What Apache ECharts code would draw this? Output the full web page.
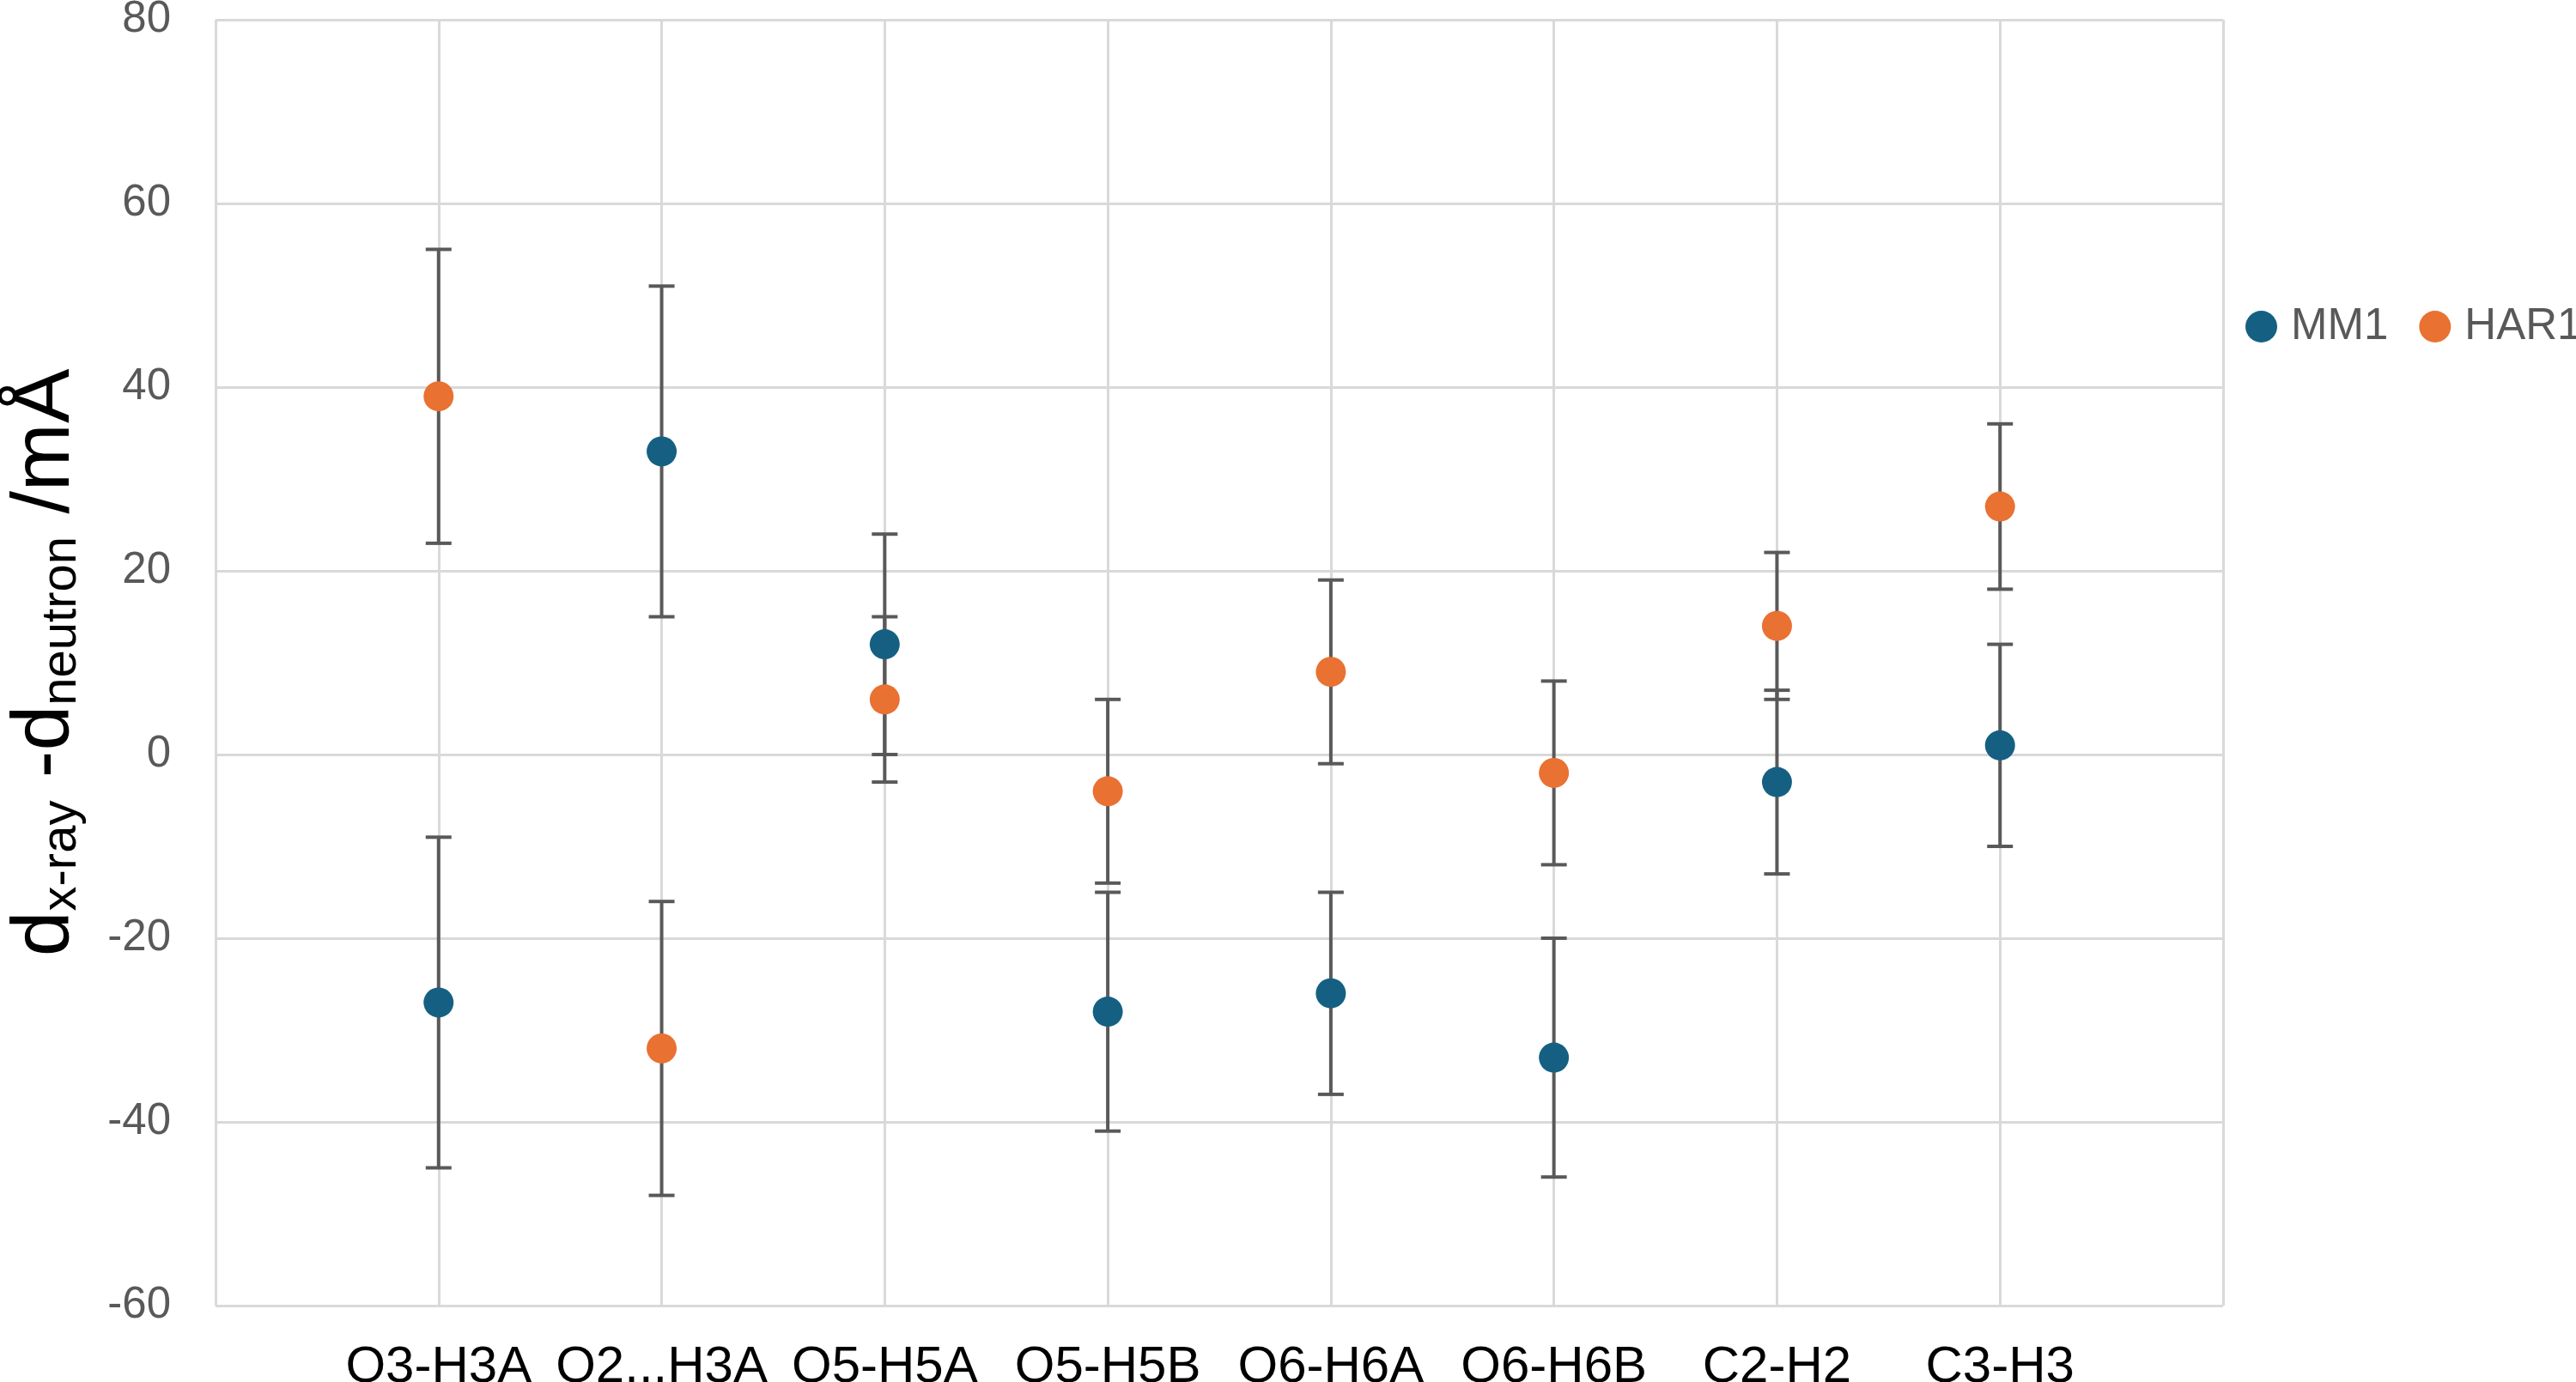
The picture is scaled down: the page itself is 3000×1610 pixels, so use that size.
<!DOCTYPE html>
<html>
<head>
<meta charset="utf-8">
<script src="https://cdn.jsdelivr.net/npm/echarts@6/dist/echarts.min.js"></script>
<style>
  html, body { margin: 0; padding: 0; background: #fff; }
  #chart { width: 3000px; height: 1610px; }
</style>
</head>
<body>
<div id="chart"></div>
<script>
// bond labels along the x axis (positions 1..8)
const bondLabels = ['O3-H3A', 'O2...H3A', 'O5-H5A', 'O5-H5B', 'O6-H6A', 'O6-H6B', 'C2-H2', 'C3-H3'];
// d(x-ray) - d(neutron), mÅ
const mm1Values = [-27, 33, 12, -28, -26, -33, -3, 1];
const mm1Errors = [18, 18, 12, 13, 11, 13, 10, 11];
const har1Values = [39, -32, 6, -4, 9, -2, 14, 27];
const har1Errors = [16, 16, 9, 10, 10, 10, 8, 9];
const yTicks = [-60, -40, -20, 0, 20, 40, 60, 80];

const blue = '#156082';
const orange = '#E97132';
const barColor = '#595959';
const gridColor = '#d9d9d9';
const font = 'Liberation Sans, Arial, sans-serif';

// 误差棒
function errorBar(params, api) {
    const x = api.value(0);
    const lo = api.coord([x, api.value(1)]);
    const hi = api.coord([x, api.value(2)]);
    const w = 15;
    const style = { stroke: barColor, lineWidth: 4 };
    return {
        type: 'group',
        children: [
            { type: 'line', shape: { x1: lo[0], y1: lo[1], x2: hi[0], y2: hi[1] }, style },
            { type: 'line', shape: { x1: lo[0] - w, y1: lo[1], x2: lo[0] + w, y2: lo[1] }, style },
            { type: 'line', shape: { x1: hi[0] - w, y1: hi[1], x2: hi[0] + w, y2: hi[1] }, style }
        ]
    };
}

function barData(values, errors) {
    return values.map((v, i) => [i + 1, v - errors[i], v + errors[i]]);
}

const chart = echarts.init(document.getElementById('chart'));
const option = {
    backgroundColor: '#fff',
    animation: false,
    grid: { left: 251, right: 411, top: 23, bottom: 89, outerBoundsMode: 'none', containLabel: false },
    legend: {
        data: ['MM1', 'HAR1'],
        orient: 'horizontal',
        left: 2615,
        width: 700,
        top: 355,
        padding: 0,
        icon: 'circle',
        itemWidth: 37,
        itemHeight: 37,
        itemGap: 36,
        textStyle: { fontFamily: font, fontSize: 51, color: '#595959', padding: [0, 0, 0, 11] }
    },
    xAxis: {
        type: 'value',
        min: 0,
        max: 9,
        interval: 1,
        axisLine: { show: false },
        axisTick: { show: false },
        splitLine: { show: true, lineStyle: { color: gridColor, width: 3 } },
        axisLabel: {
            margin: 42,
            fontFamily: font,
            fontSize: 60,
            color: '#000',
            formatter: v => bondLabels[v - 1] || ''
        }
    },
    yAxis: {
        type: 'value',
        min: -60,
        max: 80,
        interval: 20,
        axisLine: { show: false },
        axisTick: { show: false },
        splitLine: { show: true, lineStyle: { color: gridColor, width: 3 } },
        axisLabel: {
            margin: 52,
            fontFamily: font,
            fontSize: 51,
            color: '#595959',
            formatter: v => (yTicks.includes(v) ? String(v) : '')
        },
        name: '{m|d}{s|x-ray}{m| -d}{s|neutron}{m| /mÅ}',
        nameLocation: 'middle',
        nameRotate: 90,
        nameGap: 150,
        nameTextStyle: {
            rich: {
                m: { fontFamily: font, fontSize: 95, color: '#000', lineHeight: 100, verticalAlign: 'bottom' },
                s: { fontFamily: font, fontSize: 58, color: '#000', lineHeight: 22, verticalAlign: 'bottom' }
            }
        }
    },
    series: [
        {
            type: 'custom',
            renderItem: errorBar,
            encode: { x: 0, y: [1, 2] },
            data: barData(mm1Values, mm1Errors),
            silent: true,
            z: 1
        },
        {
            type: 'custom',
            renderItem: errorBar,
            encode: { x: 0, y: [1, 2] },
            data: barData(har1Values, har1Errors),
            silent: true,
            z: 1
        },
        {
            name: 'MM1',
            type: 'scatter',
            symbol: 'circle',
            symbolSize: 35,
            itemStyle: { color: blue, opacity: 1 },
            data: mm1Values.map((v, i) => [i + 1, v]),
            z: 3
        },
        {
            name: 'HAR1',
            type: 'scatter',
            symbol: 'circle',
            symbolSize: 35,
            itemStyle: { color: orange, opacity: 1 },
            data: har1Values.map((v, i) => [i + 1, v]),
            z: 3
        }
    ]
};
chart.setOption(option);
window.addEventListener('resize', () => chart.resize());
</script>
</body>
</html>
